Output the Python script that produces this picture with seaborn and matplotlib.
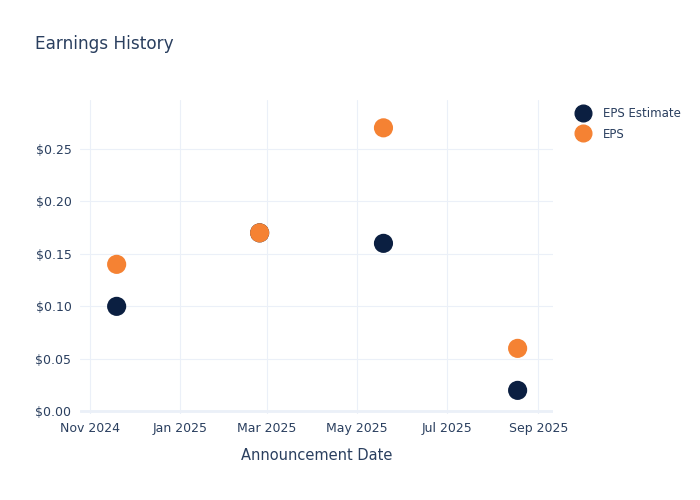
import pandas as pd
import numpy as np
import matplotlib.pyplot as plt
import matplotlib.dates as mdates
from matplotlib.ticker import FuncFormatter
from matplotlib.lines import Line2D
import seaborn as sns

# Data
dates = ["2024-11-19", "2025-02-24", "2025-05-19", "2025-08-18"]
eps_estimate = [0.10, 0.17, 0.16, 0.02]
eps_actual = [0.14, 0.17, 0.27, 0.06]
series_names = ["EPS Estimate", "EPS"]
series_colors = ["#0b1f41", "#f58233"]
text_color = "#2a3f5f"
grid_color = "#ebf0f8"

df = pd.DataFrame({
    "date": pd.to_datetime(dates * 2),
    "value": eps_estimate + eps_actual,
    "series": [series_names[0]] * len(dates) + [series_names[1]] * len(dates),
})

sns.set_style("white")
plt.rcParams["font.family"] = ["DejaVu Sans"]

fig = plt.figure(figsize=(7, 5), dpi=100)
ax = fig.add_axes([0.114, 0.172, 0.676, 0.628])

sns.scatterplot(data=df, x="date", y="value", hue="series",
                palette=dict(zip(series_names, series_colors)),
                s=190, linewidth=0, alpha=1, ax=ax, legend=False, zorder=3)

ax.set_xlim(pd.Timestamp("2024-10-25"), pd.Timestamp("2025-09-11"))
ax.set_ylim(-0.0025, 0.2965)
ax.set_yticks([0, 0.05, 0.10, 0.15, 0.20, 0.25])
ax.yaxis.set_major_formatter(FuncFormatter(lambda v, p: f"${v:.2f}"))
ax.xaxis.set_major_locator(mdates.MonthLocator(bymonth=[1, 3, 5, 7, 9, 11]))
ax.xaxis.set_major_formatter(mdates.DateFormatter("%b %Y"))

ax.grid(True, color=grid_color, linewidth=0.8)
ax.axhline(0, color=grid_color, linewidth=2, zorder=1)
for sp in ax.spines.values():
    sp.set_visible(False)
ax.tick_params(axis="both", length=0, labelsize=9, colors=text_color, pad=6)

ax.set_xlabel("Announcement Date", fontsize=10.5, color=text_color, labelpad=9)
ax.set_ylabel("")

fig.text(0.05, 0.912, "Earnings History", fontsize=12.2, color=text_color,
         va="center", ha="left")

handles = [Line2D([], [], marker="o", linestyle="", markersize=12,
                  color=c, label=n) for n, c in zip(series_names, series_colors)]
fig.legend(handles=handles, loc="upper left", bbox_to_anchor=(0.817, 0.795),
           frameon=False, fontsize=8.5, labelcolor=text_color,
           handletextpad=1.2, borderaxespad=0, labelspacing=0.62,
           handlelength=1.0)

fig.savefig("out.png", dpi=100)
